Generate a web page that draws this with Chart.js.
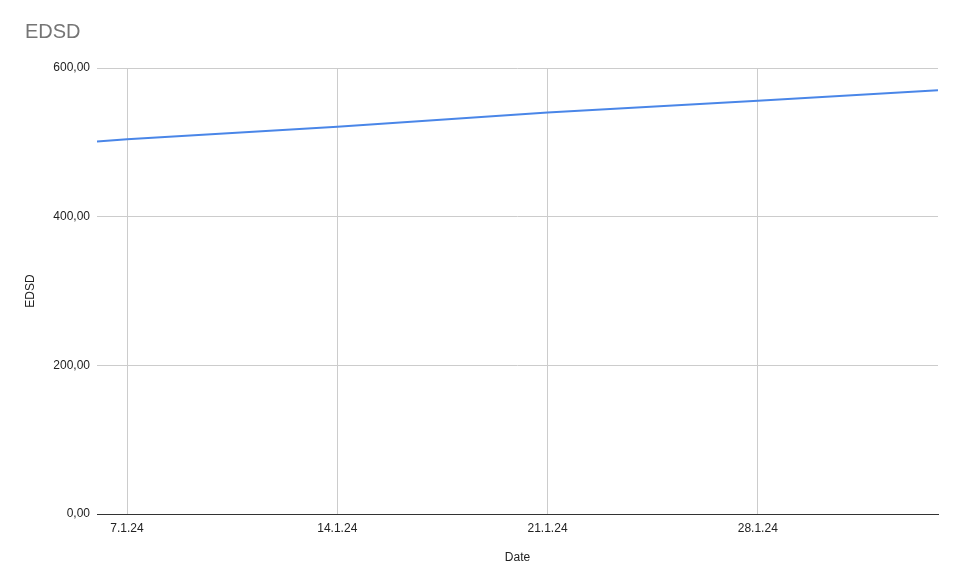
<!DOCTYPE html>
<html>
<head>
<meta charset="utf-8">
<script src="https://cdn.jsdelivr.net/npm/chart.js@4.4.1/dist/chart.umd.min.js"></script>
<style>
  html, body { margin: 0; padding: 0; background: #ffffff; }
  #wrap { width: 958px; height: 588px; }
</style>
</head>
<body>
<div id="wrap"><canvas id="lineChartEDSD" width="958" height="588"></canvas></div>
<script>
// datos
var fechas = ["2024-01-06", "2024-01-07", "2024-01-14", "2024-01-21", "2024-01-28", "2024-02-03"];
var valoresEDSD = [501, 504, 521, 540, 556, 570];
var fechasTicks = ["2024-01-07", "2024-01-14", "2024-01-21", "2024-01-28"];
var ticksY = [0, 200, 400, 600];

// dia contado desde el 0 de enero de 2024
function numDia(iso) {
    var p = iso.split("-");
    return (Date.UTC(+p[0], +p[1] - 1, +p[2]) - Date.UTC(2024, 0, 0)) / 86400000;
}

function formatoFecha(dia) {
    var d = new Date(Date.UTC(2024, 0, dia));
    return d.getUTCDate() + "." + (d.getUTCMonth() + 1) + "." + String(d.getUTCFullYear()).slice(2);
}

var puntos = [];
for (var i = 0; i < fechas.length; i++) {
    puntos.push({ x: numDia(fechas[i]), y: valoresEDSD[i] });
}

Chart.defaults.font.family = "'Liberation Sans', Arial, sans-serif";
Chart.defaults.font.size = 12;
Chart.defaults.color = "#222222";

new Chart(document.getElementById("lineChartEDSD"), {
    type: 'line',
    data: {
        datasets: [{
            label: "EDSD",
            data: puntos,
            borderColor: "#4a86e8",
            backgroundColor: "#4a86e8",
            borderWidth: 2,
            pointRadius: 0,
            tension: 0
        }]
    },
    options: {
        responsive: false,
        animation: false,
        layout: { padding: { left: 25, right: 20, top: 0, bottom: 0 } },
        plugins: {
            legend: { display: false },
            tooltip: { enabled: false },
            title: {
                display: true,
                text: 'EDSD',
                align: 'start',
                color: '#757575',
                font: { size: 20, weight: 'normal', lineHeight: 1.2 },
                padding: { top: 20, bottom: 24 }
            }
        },
        scales: {
            x: {
                type: 'linear',
                min: numDia(fechas[0]),
                max: numDia(fechas[fechas.length - 1]),
                afterBuildTicks: function(scale) {
                    scale.ticks = fechasTicks.map(function(f) { return { value: numDia(f) }; });
                },
                afterFit: function(scale) { scale.height = 74; },
                ticks: {
                    padding: 7,
                    maxRotation: 0,
                    color: '#222222',
                    callback: function(v) { return formatoFecha(v); }
                },
                grid: { color: '#cccccc', drawTicks: false },
                border: { display: true, color: '#333333', width: 1 },
                title: {
                    display: true,
                    text: 'Date',
                    color: '#222222',
                    font: { size: 12 },
                    padding: { top: 4, bottom: 23 }
                }
            },
            y: {
                min: ticksY[0],
                max: ticksY[ticksY.length - 1],
                afterBuildTicks: function(scale) {
                    scale.ticks = ticksY.map(function(v) { return { value: v }; });
                },
                afterFit: function(scale) { scale.width = 72; },
                ticks: {
                    padding: 7,
                    color: '#222222',
                    callback: function(v) { return v.toFixed(2).replace('.', ','); }
                },
                grid: { color: '#cccccc', drawTicks: false },
                border: { display: false },
                title: {
                    display: true,
                    text: 'EDSD',
                    color: '#222222',
                    font: { size: 12, lineHeight: 1 },
                    padding: { top: 0, bottom: 0 }
                }
            }
        }
    }
});
</script>
</body>
</html>
